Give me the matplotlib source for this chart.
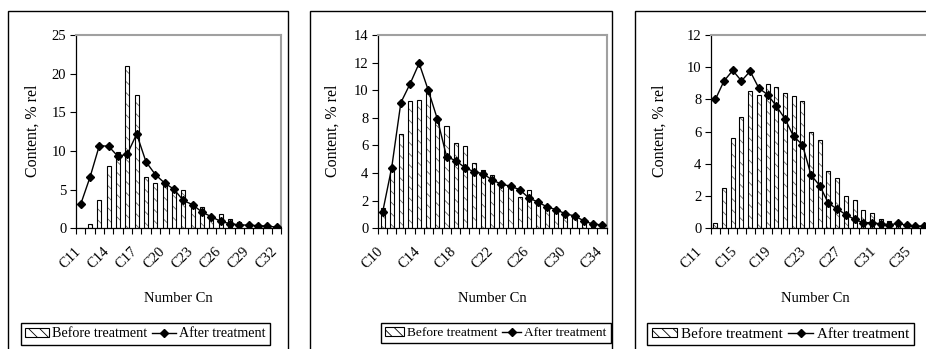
import matplotlib
matplotlib.use("Agg")
import matplotlib.pyplot as plt
import matplotlib.transforms as mtransforms
from matplotlib.patches import Rectangle, Patch
from matplotlib.lines import Line2D
import numpy as np

plt.rcParams['font.family'] = ['Liberation Serif', 'DejaVu Serif']
plt.rcParams['hatch.linewidth'] = 0.6

# panel 1
cats1 = ['C%d' % n for n in range(11, 33)]
before1 = [0, 0.5, 3.7, 8.1, 9.9, 21.0, 17.3, 6.6, 5.85, 5.6, 5.2, 4.9, 3.0, 2.8,
           1.6, 1.9, 1.15, 0.8, 0.45, 0.6, 0.2, 0.1]
after1 = [3.1, 6.6, 10.7, 10.6, 9.3, 9.6, 12.2, 8.6, 6.95, 5.85, 5.05, 3.6, 3.05, 2.1,
          1.5, 0.9, 0.6, 0.45, 0.4, 0.35, 0.28, 0.15]

# panel 2
cats2 = ['C%d' % n for n in range(10, 35)]
before2 = [1.45, 4.3, 6.8, 9.25, 9.3, 9.9, 8.0, 7.4, 6.15, 5.95, 4.75, 4.2, 3.85, 3.2,
           2.9, 2.25, 2.75, 1.9, 1.5, 1.3, 1.0, 0.85, 0.55, 0.3, 0.2]
after2 = [1.15, 4.4, 9.1, 10.45, 11.95, 10.0, 7.9, 5.2, 4.9, 4.4, 4.1, 3.95, 3.5, 3.2,
          3.05, 2.8, 2.2, 1.9, 1.55, 1.35, 1.05, 0.9, 0.55, 0.3, 0.25]

# panel 3
cats3 = ['C%d' % n for n in range(11, 36)]
before3 = [0.3, 2.5, 5.6, 6.9, 8.5, 8.25, 8.95, 8.8, 8.4, 8.2, 7.9, 6.0, 5.5, 3.55,
           3.15, 2.0, 1.75, 1.15, 0.95, 0.55, 0.45, 0.3, 0.2, 0.15, 0.1]
after3 = [8.0, 9.15, 9.8, 9.15, 9.75, 8.7, 8.3, 7.6, 6.8, 5.7, 5.2, 3.3, 2.65, 1.55,
          1.2, 0.85, 0.55, 0.35, 0.35, 0.27, 0.22, 0.3, 0.19, 0.14, 0.14]

W, H = 926, 349
fig = plt.figure(figsize=(W / 100, H / 100), dpi=100)

panels = [
    # data, ymax, ystep, label step, axes px, frame px, legend x, label shift,
    # ylabel x, xlabel x, legend fs, legend handle length
    (cats1, before1, after1, 25, 5, 3, (76, 281.3), (8, 288), 21, -6, 33, 178, 10.2, 1.65),
    (cats2, before2, after2, 14, 2, 4, (378, 606.5), (310, 612), 381, -6, 333, 492, 9.6, 1.4),
    (cats3, before3, after3, 12, 2, 4, (711, 928.5), (635, 960), 647, -20, 660, 815, 10.8, 1.7),
]

top_px, bot_px = 35, 228.3
fs = 10.5

for (cats, before, after, ymax, ystep, lstep, (ax0, ax1), (fr0, fr1), leg_x,
     shift, ylab_x, xlab_x, lfs, hlen) in panels:
    fig.patches.append(Rectangle((fr0 / W, -0.2), (fr1 - fr0) / W, 1.2 - 11 / H,
                                 transform=fig.transFigure, fill=False,
                                 edgecolor='black', lw=1.0, clip_on=False))
    ax = fig.add_axes([ax0 / W, 1 - bot_px / H, (ax1 - ax0) / W, (bot_px - top_px) / H])
    x = np.arange(len(cats))
    ax.bar(x, before, width=0.45, color='white', hatch='\\\\\\', edgecolor='#666666',
           linewidth=0, zorder=2)
    ax.bar(x, before, width=0.45, fill=False, edgecolor='black', linewidth=0.8, zorder=3)
    ax.plot(x, after, color='black', lw=1.0, marker='D', markersize=4.4, zorder=4)

    ax.set_xlim(-0.5, len(cats) - 0.5)
    ax.set_ylim(0, ymax)
    ax.set_yticks(np.arange(0, ymax + 0.1, ystep))
    ax.tick_params(axis='y', direction='out', length=4, width=0.8, labelsize=fs, pad=3)
    ax.set_xticks(x[::lstep])
    ax.set_xticklabels(cats[::lstep], rotation=45, ha='right', va='top',
                       rotation_mode='anchor', fontsize=fs)
    ax.tick_params(axis='x', which='major', length=0, pad=12)
    off = mtransforms.ScaledTranslation(shift / 100, 0, fig.dpi_scale_trans)
    for lab in ax.get_xticklabels():
        lab.set_transform(lab.get_transform() + off)
    ax.set_xticks(np.arange(-0.5, len(cats), 1), minor=True)
    ax.tick_params(axis='x', which='minor', direction='out', length=4, width=0.8)
    for s in ['top', 'right']:
        ax.spines[s].set_color('#a0a0a0')
        ax.spines[s].set_linewidth(1.5)
    for s in ['left', 'bottom']:
        ax.spines[s].set_color('black')
        ax.spines[s].set_linewidth(0.9)

    fig.text(ylab_x / W, 1 - 131 / H, 'Content, % rel', fontsize=11.5,
             rotation=90, ha='center', va='center')
    fig.text(xlab_x / W, 1 - 299 / H, 'Number Cn', fontsize=fs,
             ha='center', va='center')

    handles = [Patch(facecolor='white', edgecolor='black', hatch='\\\\\\', lw=0.8),
               Line2D([], [], color='black', lw=1.0, marker='D', markersize=4)]
    fig.legend(handles, ['Before treatment', 'After treatment'], ncol=2,
               loc='upper left', bbox_to_anchor=(leg_x / W, 1 - 323 / H),
               frameon=True, fancybox=False, edgecolor='black', framealpha=1,
               fontsize=lfs, borderaxespad=0, borderpad=0.3, handlelength=hlen,
               handleheight=0.6, handletextpad=0.25, columnspacing=0.35)

fig.savefig('out.png', dpi=100)
